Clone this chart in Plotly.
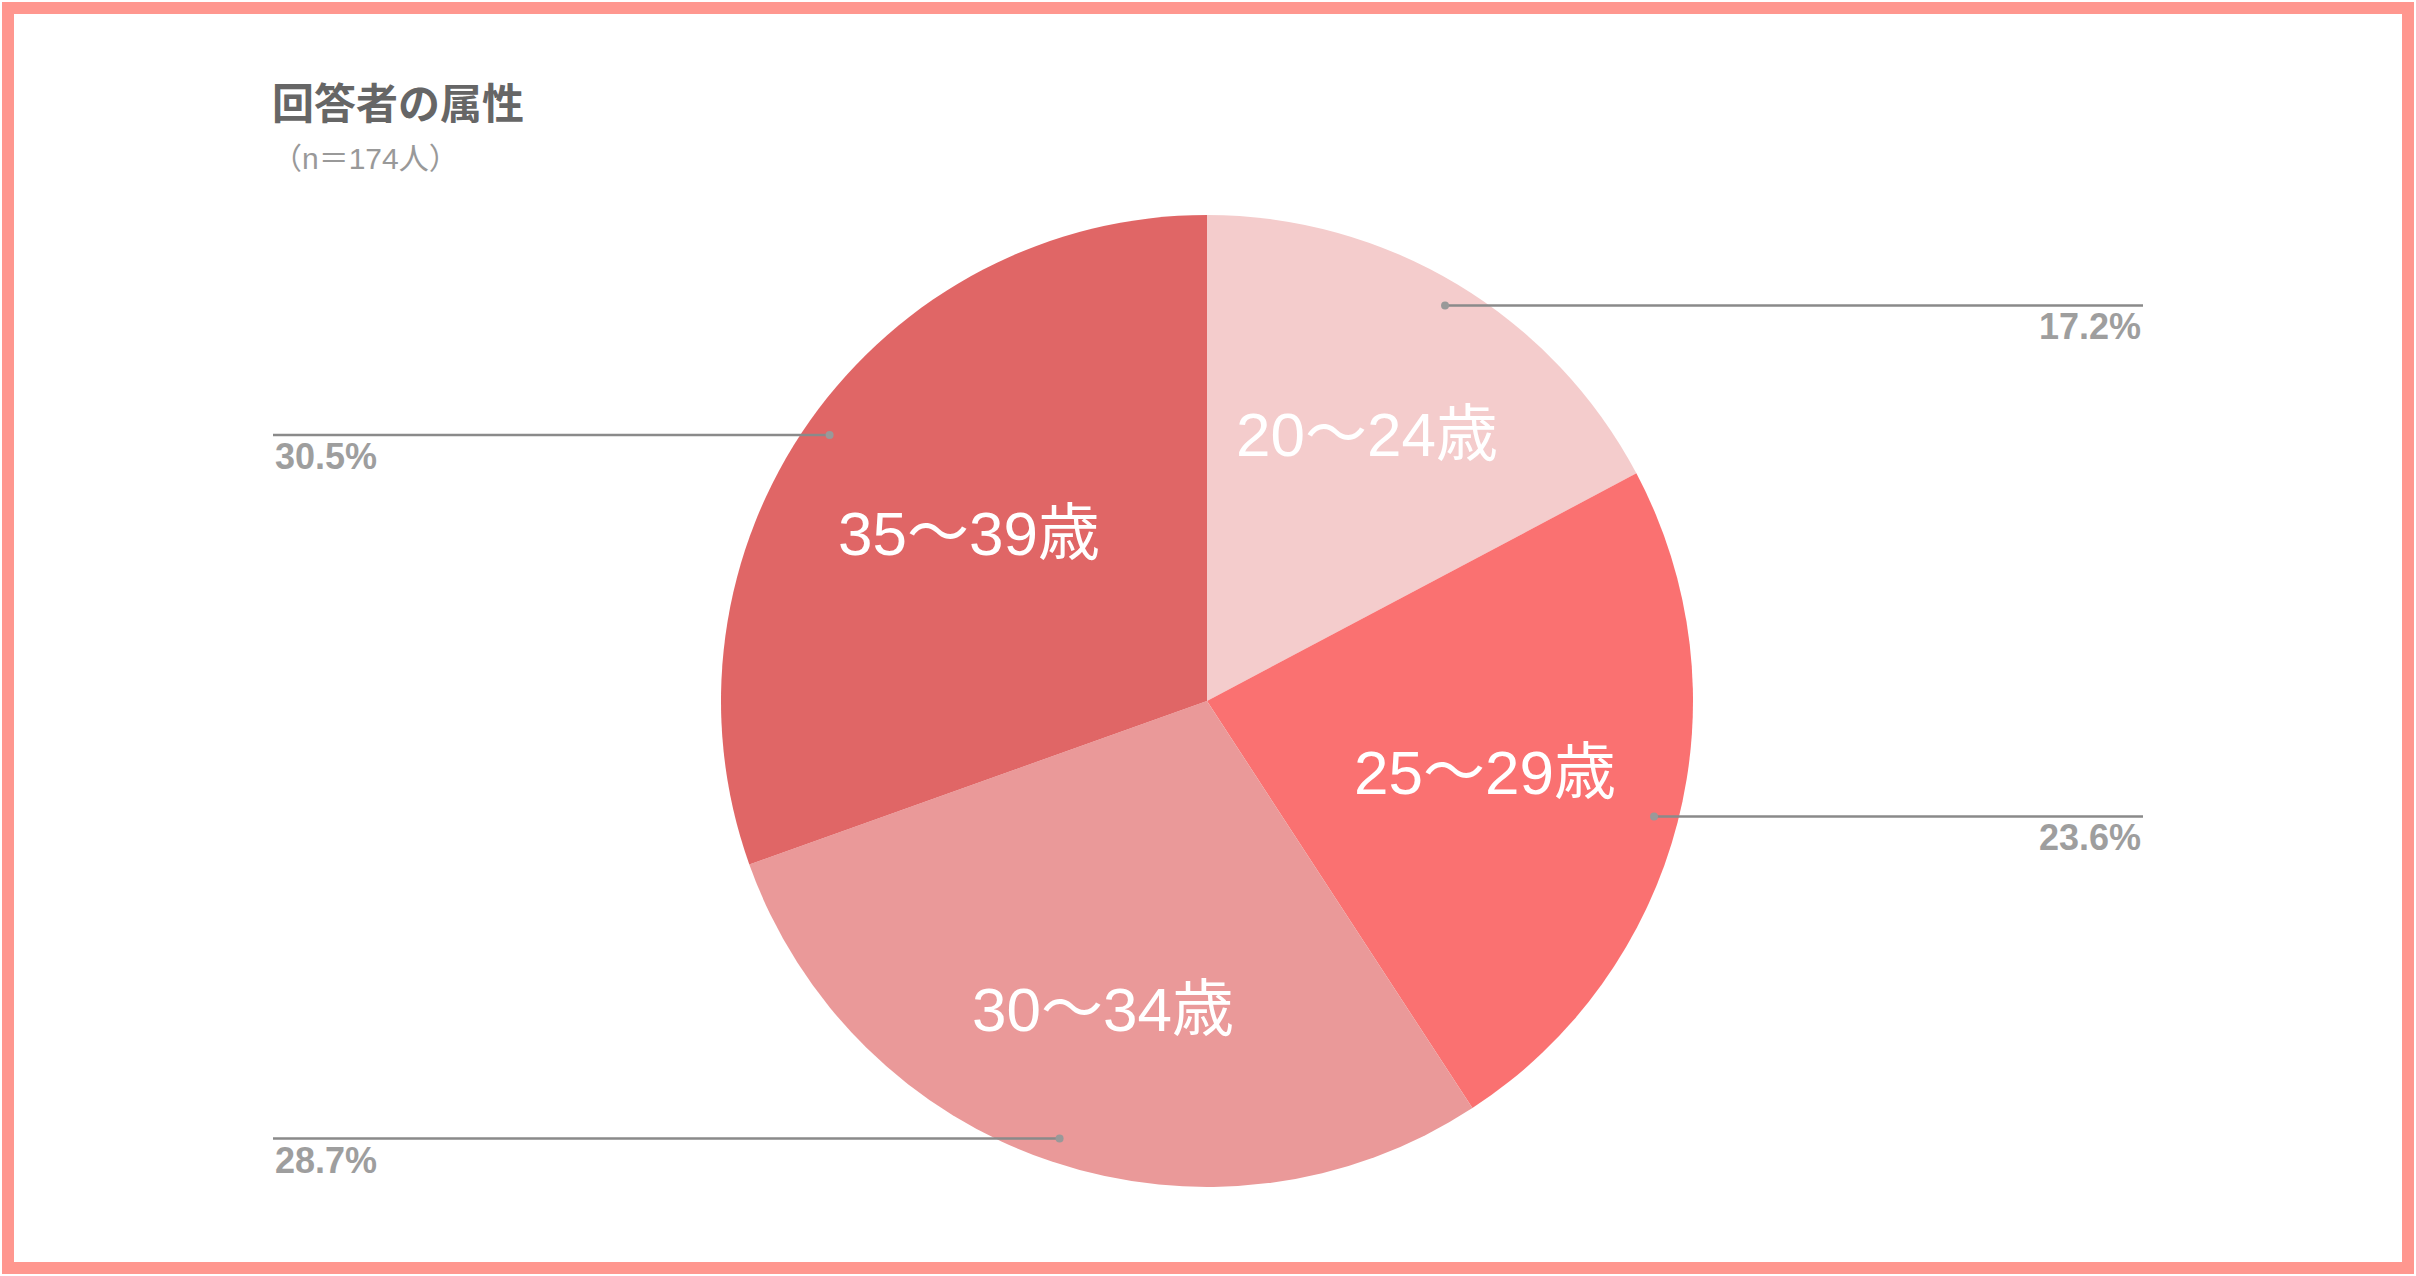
import math
import plotly.graph_objects as go

# ---- data ----
categories = ["20〜24歳", "25〜29歳", "30〜34歳", "35〜39歳"]
counts = [30, 41, 50, 53]
title_text = "回答者の属性"
subtitle_text = "（n＝174人）"

# ---- style ----
slice_colors = ["#F4CCCC", "#FA7171", "#EA9999", "#E06666"]
label_radius = [0.64, 0.59, 0.67, 0.60]
W, H = 2416, 1276
cx, cy, R = 1207, 701, 486
right_end, left_end = 2143, 273
line_color = "#8a8a8a"
pct_color = "#9e9e9e"

def px(x):
    return x / W

def py(y):
    return 1 - y / H

total = sum(counts)

fig = go.Figure()
fig.add_trace(go.Pie(
    labels=categories,
    values=counts,
    sort=False,
    direction="clockwise",
    rotation=0,
    marker=dict(colors=slice_colors, line=dict(width=0)),
    textinfo="none",
    hoverinfo="label+percent",
    showlegend=False,
    domain=dict(x=[px(cx - R), px(cx + R)], y=[py(cy + R), py(cy - R)]),
))

shapes = []
annotations = []
cum = 0
for i, (cat, v) in enumerate(zip(categories, counts)):
    mid = (cum + v / 2) / total * 2 * math.pi
    cum += v
    # inside label
    lx = cx + label_radius[i] * R * math.sin(mid)
    ly = cy - label_radius[i] * R * math.cos(mid)
    annotations.append(dict(
        x=px(lx), y=py(ly), xref="paper", yref="paper", text=cat, showarrow=False,
        xanchor="center", yanchor="middle",
        font=dict(family="Liberation Sans, Noto Sans CJK JP", size=62, color="white"),
    ))
    # leader
    dx = cx + 0.95 * R * math.sin(mid)
    dy = cy - 0.95 * R * math.cos(mid)
    right = math.sin(mid) > 0
    xend = right_end if right else left_end
    shapes.append(dict(type="line", xref="paper", yref="paper",
                       x0=px(dx), y0=py(dy), x1=px(xend), y1=py(dy),
                       line=dict(color=line_color, width=2.5)))
    shapes.append(dict(type="circle", xref="paper", yref="paper",
                       x0=px(dx - 4), x1=px(dx + 4), y0=py(dy - 4), y1=py(dy + 4),
                       fillcolor="#999999", line=dict(width=0)))
    annotations.append(dict(
        x=px(xend), y=py(dy - 1), xref="paper", yref="paper",
        text=f"<b>{v / total * 100:.1f}%</b>", showarrow=False,
        xanchor="right" if right else "left", yanchor="top",
        font=dict(family="Liberation Sans, Arial", size=36, color=pct_color),
    ))

annotations.append(dict(
    x=px(270), y=py(68), xref="paper", yref="paper", text=f"<b>{title_text}</b>",
    showarrow=False, xanchor="left", yanchor="top",
    font=dict(family="Noto Sans CJK JP", size=42, color="#666666"),
))
annotations.append(dict(
    x=px(270), y=py(140), xref="paper", yref="paper", text=subtitle_text,
    showarrow=False, xanchor="left", yanchor="top",
    font=dict(family="Liberation Sans, Noto Sans CJK JP", size=30, color="#999999"),
))

# frame
shapes.append(dict(type="rect", xref="paper", yref="paper",
                   x0=px(8), x1=px(W - 8), y0=py(H - 8), y1=py(8),
                   line=dict(color="#FF978F", width=12), fillcolor="rgba(0,0,0,0)"))

fig.update_layout(
    width=W, height=H,
    margin=dict(l=0, r=0, t=0, b=0),
    paper_bgcolor="white", plot_bgcolor="white",
    shapes=shapes, annotations=annotations,
)

fig.write_html("out.html", config={"displayModeBar": False},
               post_script="document.body.style.margin='0';document.body.style.overflow='hidden';")
